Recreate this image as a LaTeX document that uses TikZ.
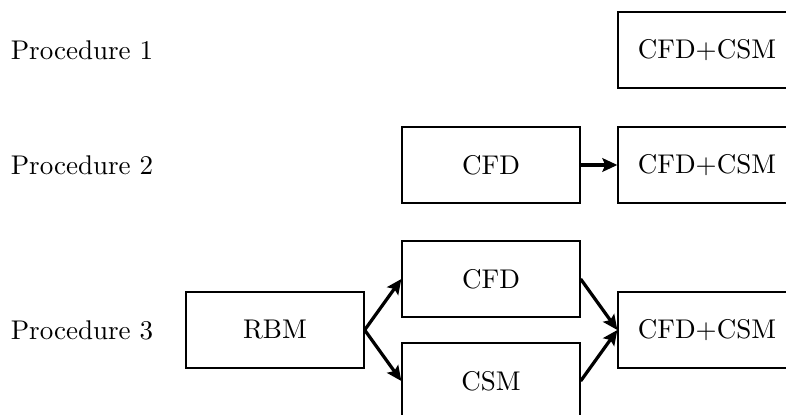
\documentclass[tikz,border=0pt]{standalone}
\usepackage{tikz}
\usetikzlibrary{arrows.meta}

\begin{document}
\begin{tikzpicture}[
    block/.style={rectangle, draw=black, semithick, fill=white,
        minimum width=2.31cm, minimum height=0.99cm, inner sep=2pt},
    label/.style={inner sep=0pt},
    flow/.style={very thick, -{Stealth[length=5.5pt, width=5pt, inset=1pt]}}
]
    \useasboundingbox (0,0) rectangle (10.218,5.382);
    \node[label] (p1) at (1.066,4.732) {Procedure 1};
    \node[label] (p2) at (1.066,3.237) {Procedure 2};
    \node[label] (p3) at (1.066,1.092) {Procedure 3};
    \node[block] (fsi1) at (9.191,4.732) {CFD+CSM};
    \node[block] (cfd2) at (6.383,3.237) {CFD};
    \node[block] (fsi2) at (9.191,3.237) {CFD+CSM};
    \node[block] (rbm) at (3.575,1.092) {RBM};
    \node[block] (cfd3) at (6.383,1.755) {CFD};
    \node[block] (csm3) at (6.383,0.429) {CSM};
    \node[block] (fsi3) at (9.191,1.092) {CFD+CSM};
    \draw[flow] (cfd2.east) -- (fsi2.west);
    \draw[flow] (rbm.east) -- (cfd3.west);
    \draw[flow] (rbm.east) -- (csm3.west);
    \draw[flow] (cfd3.east) -- (fsi3.west);
    \draw[flow] (csm3.east) -- (fsi3.west);
\end{tikzpicture}
\end{document}
